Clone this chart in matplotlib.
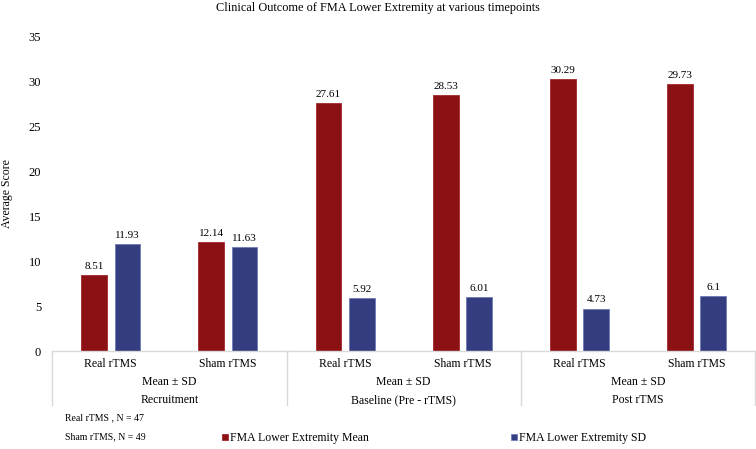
import numpy as np
import matplotlib.pyplot as plt
import matplotlib.transforms as mtransforms

plt.rcParams['font.family'] = ['Liberation Serif', 'DejaVu Serif']

# data
categories = ['Real rTMS', 'Sham rTMS', 'Real rTMS', 'Sham rTMS', 'Real rTMS', 'Sham rTMS']
groups = ['Recruitment', 'Baseline (Pre - rTMS)', 'Post rTMS']
mean_vals = [8.51, 12.14, 27.61, 28.53, 30.29, 29.73]
sd_vals = [11.93, 11.63, 5.92, 6.01, 4.73, 6.1]
sd_labels = ['11.93', '11.63', '5.92', '6.01', '4.73', '6.1']
mean_labels = ['8.51', '12.14', '27.61', '28.53', '30.29', '29.73']

red = '#8C1115'
blue = '#333D7F'

fig = plt.figure(figsize=(7.56, 4.49), dpi=100)
ax = fig.add_axes([0.069, 0.218, 0.93, 0.7])

x = np.arange(len(categories))
w = 0.22
off = 0.142
b1 = ax.bar(x - off, mean_vals, w, color=red, edgecolor='#a3282c', linewidth=0.6,
            label='FMA Lower Extremity Mean')
b2 = ax.bar(x + off, sd_vals, w, color=blue, edgecolor='#6f7bb8', linewidth=0.6,
            label='FMA Lower Extremity SD')

for rect, lab in zip(b1, mean_labels):
    ax.annotate(lab, (rect.get_x() + rect.get_width() / 2, rect.get_height()),
                xytext=(0, 3), textcoords='offset points', ha='center', va='bottom', fontsize=8)
for rect, lab in zip(b2, sd_labels):
    ax.annotate(lab, (rect.get_x() + rect.get_width() / 2, rect.get_height()),
                xytext=(0, 3), textcoords='offset points', ha='center', va='bottom', fontsize=8)

ax.set_xlim(-0.5, len(categories) - 0.5)
ax.set_ylim(0, 35)
ax.set_yticks(range(0, 36, 5))
ax.tick_params(axis='y', length=0, labelsize=9, pad=8)
ax.tick_params(axis='x', length=0, labelbottom=False)
for s in ['top', 'right', 'left']:
    ax.spines[s].set_visible(False)
ax.spines['bottom'].set_color('#d9d9d9')
ax.spines['bottom'].set_linewidth(1)

ax.set_ylabel('Average Score', fontsize=8.5)
ax.yaxis.set_label_coords(-0.055, 0.5)
fig.suptitle('Clinical Outcome of FMA Lower Extremity at various timepoints', fontsize=8.8,
             x=0.5, y=0.995, va='top')

# multi-level category axis
trans = mtransforms.blended_transform_factory(ax.transData, ax.transAxes)
for xi, lab in zip(x, categories):
    ax.text(xi, -0.04, lab, transform=trans, ha='center', va='center', fontsize=8.5)
for gi, g in enumerate(groups):
    cx = 2 * gi + 0.5
    ax.text(cx, -0.098, 'Mean ± SD', transform=trans, ha='center', va='center', fontsize=8.5)
    ax.text(cx, -0.155, g, transform=trans, ha='center', va='center', fontsize=8.5)
for sep in [-0.5, 1.5, 3.5, 5.5]:
    ax.plot([sep, sep], [0, -0.172], transform=trans, color='#d9d9d9', lw=1, clip_on=False)

fig.text(0.086, 0.069, 'Real rTMS , N = 47', fontsize=7, va='center')
fig.text(0.086, 0.027, 'Sham rTMS, N = 49', fontsize=7, va='center')

fig.legend(handles=[b1, b2], loc='center', bbox_to_anchor=(0.574, 0.024), ncol=2, frameon=False,
           fontsize=8.5, handlelength=0.5, handleheight=0.5, handletextpad=0.2, columnspacing=12)

fig.savefig('out.png', dpi=100)
